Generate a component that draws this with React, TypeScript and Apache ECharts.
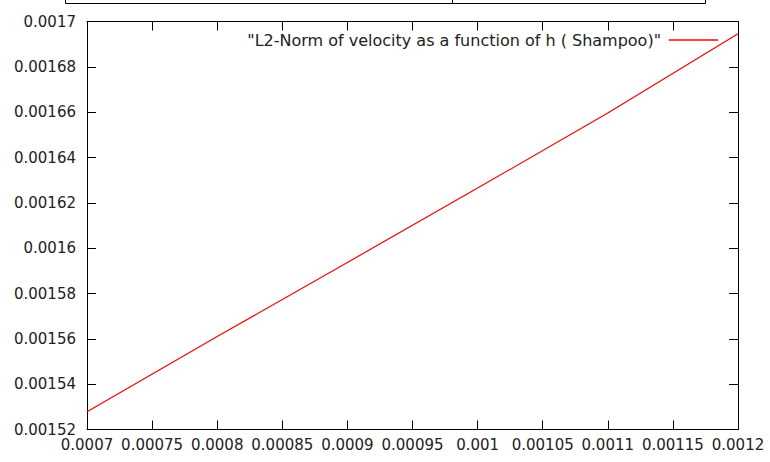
import React, { useEffect, useRef } from "react";
import * as echarts from "echarts";

const hValues = [0.0007, 0.0008, 0.0009, 0.001, 0.0011, 0.0012];
const normValues = [0.0015278, 0.001561, 0.0015937, 0.0016265, 0.0016596, 0.0016946];
const seriesName = '"L2-Norm of velocity as a function of h ( Shampoo)"';
const xTickLabels = ["0.0007", "0.00075", "0.0008", "0.00085", "0.0009", "0.00095", "0.001", "0.00105", "0.0011", "0.00115", "0.0012"];
const yTickLabels = ["0.00152", "0.00154", "0.00156", "0.00158", "0.0016", "0.00162", "0.00164", "0.00166", "0.00168", "0.0017"];

const FONT = "DejaVu Sans";

export default function App() {
  const ref = useRef<HTMLDivElement>(null);
  useEffect(() => {
    if (!ref.current) return;
    const chart = echarts.init(ref.current, null, { renderer: "svg" });
    const fmtX = (v: number) => xTickLabels[Math.round((v - 0.0007) / 0.00005)] ?? "";
    const fmtY = (v: number) => yTickLabels[Math.round((v - 0.00152) / 0.00002)] ?? "";
    const axisLine = { show: true, lineStyle: { color: "#000", width: 1 } };
    const axisTick = { show: true, inside: true, length: 9, lineStyle: { color: "#000", width: 1 } };
    chart.setOption({
      animation: false,
      backgroundColor: "#fff",
      grid: { left: 87, right: 32, top: 21.5, bottom: 32.5, containLabel: false },
      legend: {
        show: true,
        right: 52,
        top: 32,
        padding: 0,
        align: "right",
        itemWidth: 49,
        itemHeight: 1.5,
        itemGap: 10,
        icon: "rect",
        itemStyle: { color: "#ff0000", borderWidth: 0 },
        lineStyle: { color: "#ff0000" },
        textStyle: { fontFamily: FONT, fontSize: 16, color: "#222", padding: [0, 3, 0, 0] },
        data: [{ name: seriesName }],
      },
      xAxis: [
        {
          type: "value",
          min: 0.0007,
          max: 0.0012,
          interval: 0.00005,
          axisLine,
          axisTick,
          splitLine: { show: false },
          axisLabel: { formatter: fmtX, fontFamily: FONT, fontSize: 15, color: "#222", margin: 8 },
        },
        {
          type: "value",
          position: "top",
          min: 0.0007,
          max: 0.0012,
          interval: 0.00005,
          axisLine,
          axisTick,
          splitLine: { show: false },
          axisLabel: { show: false },
        },
      ],
      yAxis: [
        {
          type: "value",
          min: 0.00152,
          max: 0.0017,
          interval: 0.00002,
          axisLine,
          axisTick,
          splitLine: { show: false },
          axisLabel: { formatter: fmtY, fontFamily: FONT, fontSize: 15, color: "#222", margin: 11 },
        },
        {
          type: "value",
          position: "right",
          min: 0.00152,
          max: 0.0017,
          interval: 0.00002,
          axisLine,
          axisTick,
          splitLine: { show: false },
          axisLabel: { show: false },
        },
      ],
      series: [
        {
          name: seriesName,
          type: "line",
          data: hValues.map((h, i) => [h, normValues[i]]),
          showSymbol: false,
          symbol: "none",
          lineStyle: { color: "#ff0000", width: 1.2 },
          itemStyle: { color: "#ff0000" },
        },
      ],
      graphic: [
        { type: "rect", shape: { x: 65.5, y: -10, width: 640, height: 13.5 }, style: { fill: "none", stroke: "#000", lineWidth: 1 } },
        { type: "line", shape: { x1: 452.5, y1: -10, x2: 452.5, y2: 3.5 }, style: { stroke: "#000", lineWidth: 1 } },
      ],
    });
    return () => chart.dispose();
  }, []);
  return <div ref={ref} style={{ width: 770, height: 462, position: "absolute", left: 0, top: 0 }} />;
}
